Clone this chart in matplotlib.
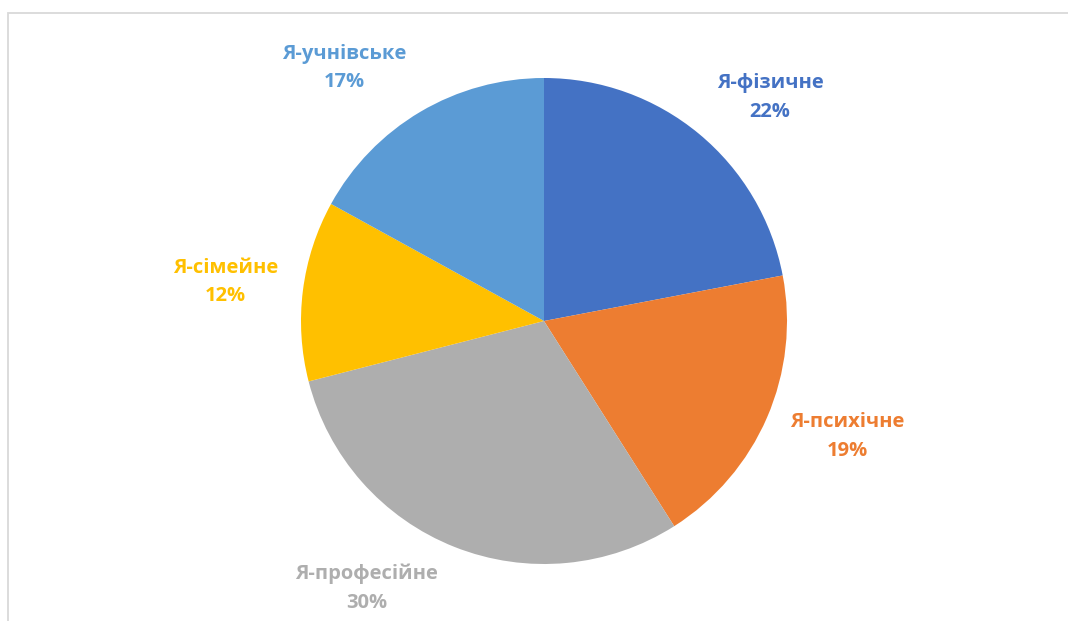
import matplotlib
matplotlib.use("Agg")
import matplotlib.pyplot as plt
from matplotlib.patches import Rectangle

plt.rcParams["font.family"] = ["Open Sans", "DejaVu Sans"]

# Data (clockwise from 12 o'clock)
categories = ["Я-фізичне", "Я-психічне", "Я-професійне", "Я-сімейне", "Я-учнівське"]
shares = [22, 19, 30, 12, 17]
colors = ["#4472C4", "#ED7D31", "#AEAEAE", "#FFC000", "#5B9BD5"]

# label block centres (in pie-radius units, relative to pie centre)
label_pos = [(0.93, 0.92), (1.25, -0.475), (-0.73, -1.10), (-1.31, 0.16), (-0.82, 1.04)]

W, H = 1068, 621
fig = plt.figure(figsize=(W / 100, H / 100), dpi=100)

# chart area frame (cut off on right and bottom as in the source)
fig.add_artist(Rectangle((8 / W, -0.1), 1.2, 1 - 13 / H + 0.1,
                         transform=fig.transFigure, fill=False,
                         edgecolor="#D9D9D9", linewidth=1.3))

cx, cy, r = 544, 321, 243
ax = fig.add_axes([(cx - r) / W, (H - cy - r) / H, 2 * r / W, 2 * r / H])
ax.pie(shares, colors=colors, startangle=90, counterclock=False,
       radius=1, wedgeprops=dict(linewidth=0))
ax.set_xlim(-1, 1)
ax.set_ylim(-1, 1)
ax.set_aspect("equal")
ax.axis("off")

for name, val, col, (x, y) in zip(categories, shares, colors, label_pos):
    ax.text(x, y, f"{name}\n{val}%", color=col, fontsize=14.5, fontweight="bold",
            ha="center", va="center", linespacing=1.55, clip_on=False)

fig.savefig("out.png", dpi=100)
